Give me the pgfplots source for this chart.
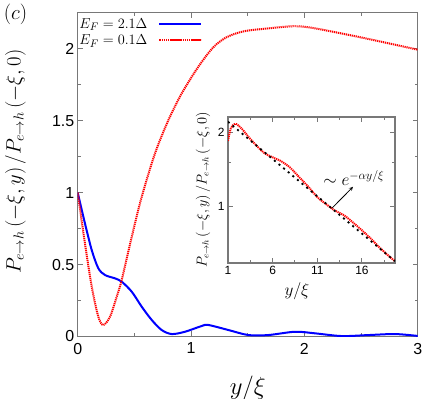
\documentclass[border=0pt]{standalone}
\usepackage{fontspec}
\usepackage{pgfplots}
\pgfplotsset{compat=1.18}
\newfontfamily\tickfont{Liberation Sans}

\definecolor{axisgray}{RGB}{120,120,120}

\begin{document}
\begin{tikzpicture}
\pgfplotsset{
  gnu/.style={
    scale only axis,
    axis line style={axisgray, line width=1.2bp},
    tick style={axisgray, line width=1bp},
    tick align=inside,
    major tick length=5bp,
    minor tick length=3bp,
    /pgf/number format/assume math mode=true,
    clip mode=individual,
  },
}
\begin{axis}[gnu,
  name=main,
  width=340bp, height=323.8bp,
  xmin=0, xmax=3, ymin=0, ymax=2.25,
  xtick={0,1,2,3}, minor xtick={0.5,1.5,2.5},
  ytick={0,0.5,1,1.5,2}, minor ytick={0.25,0.75,1.25,1.75},
  ticklabel style={font=\tickfont\fontsize{16}{16}\selectfont},
  xticklabel style={yshift=-3bp},
  xlabel={$y/\xi$},
  ylabel={$P_{e\to h}\left(-\xi,y\right)/P_{e\to h}\left(-\xi,0\right)$},
  xlabel style={font=\fontsize{25}{25}\selectfont, at={(axis description cs:0.5,-0.16)}, anchor=center},
  ylabel style={font=\fontsize{22}{22}\selectfont, at={(axis description cs:-0.183,0.54)}, anchor=center},
  legend plot pos=right,
  legend cell align=left,
  legend style={draw=none, fill=none, at={(axis description cs:-0.01,0.995)}, anchor=north west,
    font=\fontsize{15.5}{15.5}\selectfont, row sep=1bp,
    /tikz/every odd column/.append style={column sep=9bp}},
  legend image code/.code={\draw[#1] (0bp,0bp) -- (42bp,0bp);},
]
\addlegendimage{draw=blue, line width=2bp}
\addlegendentry{$E_F = 2.1\Delta$}
\addlegendimage{draw=red, line width=2bp, dash pattern=on 1.6bp off 0.5bp}
\addlegendentry{$E_F = 0.1\Delta$}
\addplot[blue, line width=2bp, smooth, tension=0.5, forget plot] coordinates {
  (0,1.0) (0.064,0.786) (0.124,0.60) (0.182,0.474) (0.241,0.427) (0.329,0.404)
  (0.388,0.381) (0.477,0.311) (0.565,0.207) (0.653,0.115) (0.741,0.045)
  (0.83,0.017) (0.947,0.033) (1.094,0.073) (1.153,0.08) (1.33,0.045)
  (1.506,0.01) (1.68,0.01) (1.918,0.033) (2.094,0.022) (2.33,0.003)
  (2.565,0.01) (2.8,0.017) (3.0,0.004)
};
\addplot[red, line width=2bp, dash pattern=on 1.2bp off 0.8bp, smooth, tension=0.5, forget plot] coordinates {
  (0,1.0) (0.064,0.647) (0.124,0.346) (0.182,0.137) (0.226,0.08) (0.285,0.137)
  (0.344,0.276) (0.388,0.392) (0.477,0.693) (0.565,0.971) (0.682,1.272)
  (0.80,1.503) (0.918,1.689) (1.064,1.874) (1.197,2.01) (1.315,2.08)
  (1.462,2.12) (1.668,2.14) (1.903,2.156) (2.05,2.147) (2.256,2.117)
  (2.49,2.08) (2.727,2.04) (3.0,1.993)
};
\node[font=\fontsize{20}{20}\selectfont] at (rel axis cs:-0.183,0.995) {$(c)$};
\end{axis}

\begin{axis}[gnu,
  at={(150.3bp,73.5bp)}, anchor=south west,
  width=167bp, height=146bp,
  ymode=log,
  xmin=1, xmax=19.7, ymin=0.59, ymax=2.3,
  xtick={1,6,11,16}, minor xtick={3.5,8.5,13.5,18.5},
  ytick={1,2}, yticklabels={1,2}, minor ytick={1.5},
  axis background/.style={fill=white},
  ticklabel style={font=\tickfont\fontsize{12}{12}\selectfont},
  xlabel={$y/\xi$},
  ylabel={$P_{e\to h}\left(-\xi,y\right)/P_{e\to h}\left(-\xi,0\right)$},
  xlabel style={font=\fontsize{17}{17}\selectfont, at={(axis description cs:0.413,-0.19)}, anchor=center},
  ylabel style={font=\fontsize{13.5}{13.5}\selectfont, at={(axis description cs:-0.15,0.5)}, anchor=center},
]
\addplot[red, line width=2bp, dash pattern=on 1.2bp off 0.8bp, smooth, tension=0.5] coordinates {
  (1.0,1.84) (1.3,2.06) (1.8,2.16) (2.5,2.07) (3.3,1.91) (4.2,1.76) (5.1,1.64)
  (6.0,1.58) (7.0,1.52) (8.0,1.43) (9.0,1.31) (10.0,1.20) (11.0,1.09)
  (12.0,1.02) (13.0,0.96) (14.0,0.92) (15.0,0.86) (16.0,0.80) (17.0,0.74)
  (18.0,0.68) (19.0,0.63) (19.7,0.60)
};
\addplot[black, line width=1.8bp, dash pattern=on 2bp off 4bp] coordinates {
  (1.0,2.2) (19.7,0.6)
};
\draw[-stealth, black, line width=0.8bp] (axis cs:12.6,0.98) -- (axis cs:15.0,1.20);
\node[font=\fontsize{17}{17}\selectfont] at (axis cs:15.1,1.30) {$\sim e^{-\alpha y/\xi}$};
\end{axis}
\pgfresetboundingbox
\path (-77.7bp,-62.5bp) rectangle (347.3bp,336.5bp);
\end{tikzpicture}
\end{document}
